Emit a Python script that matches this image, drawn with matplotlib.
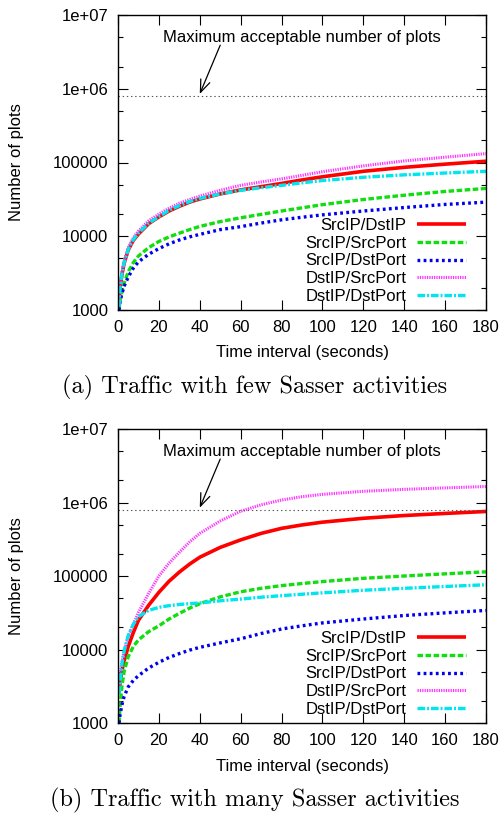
import matplotlib
matplotlib.use("Agg")
import matplotlib.pyplot as plt
from matplotlib.ticker import LogLocator, NullFormatter, FixedLocator

plt.rcParams['font.family'] = ['Liberation Sans', 'DejaVu Sans']
plt.rcParams['lines.scale_dashes'] = False

# time axis (seconds)
time_s = [0.5, 1, 2, 3, 5, 7.5, 10, 15, 20, 25, 30, 35, 40, 50, 60, 70, 80, 90, 100, 120, 140, 160, 180]

# (a) few Sasser activities
few_srcip_dstip = [1100, 2000, 3100, 4300, 6500, 8800, 10700, 14800, 18300, 22000, 25500, 29000,
                   32000, 37500, 42500, 47000, 52000, 58000, 64000, 76000, 86000, 95000, 104000]
few_srcip_srcport = [1000, 1350, 1800, 2300, 3300, 4400, 5400, 7000, 8500, 9800, 11000, 12300,
                     13600, 15800, 17800, 19800, 22000, 24300, 26800, 31500, 36000, 40500, 44500]
few_srcip_dstport = [1000, 1300, 1700, 2100, 2800, 3700, 4500, 5700, 6800, 7900, 8900, 9800,
                     10600, 12300, 13500, 15100, 16700, 18100, 19500, 22000, 24500, 27000, 29000]
few_dstip_srcport = [1150, 2100, 3300, 4600, 7000, 9600, 11800, 16200, 20000, 24000, 28000, 31500,
                     35000, 42000, 49000, 54500, 60000, 67000, 75000, 90000, 105000, 118000, 132000]
few_dstip_dstport = [1100, 2000, 3200, 4400, 6600, 9000, 11000, 15000, 18500, 22500, 26000, 29500,
                     32500, 37500, 42000, 45500, 49000, 53000, 57000, 63000, 68000, 72000, 76000]

# (b) many Sasser activities
many_srcip_dstip = [2500, 3500, 5300, 7000, 11000, 17000, 25000, 40000, 60000, 85000, 113000, 145000,
                    180000, 245000, 310000, 380000, 445000, 495000, 540000, 610000, 665000, 710000, 755000]
many_srcip_srcport = [1000, 1700, 3300, 5000, 8000, 11000, 13500, 17500, 21000, 26000, 31000, 36500,
                      42000, 52000, 61000, 68000, 74000, 79000, 84000, 93000, 100000, 107000, 114000]
many_srcip_dstport = [1000, 1300, 1800, 2300, 3100, 3800, 4400, 5600, 6700, 7800, 8800, 9800,
                      10700, 12300, 14000, 16500, 19000, 21000, 23000, 26000, 29000, 31500, 34000]
many_dstip_srcport = [3000, 4500, 7000, 9500, 15000, 22000, 32000, 58000, 100000, 150000, 210000, 290000,
                      380000, 560000, 760000, 930000, 1080000, 1200000, 1290000, 1420000, 1510000, 1580000, 1650000]
many_dstip_dstport = [2500, 3500, 6500, 9500, 15500, 22000, 28000, 34000, 37500, 39500, 41000, 42000,
                      43000, 46000, 48500, 51500, 54000, 56500, 59000, 64000, 68000, 72000, 76000]

labels = ["SrcIP/DstIP", "SrcIP/SrcPort", "SrcIP/DstPort", "DstIP/SrcPort", "DstIP/DstPort"]
threshold = 800000
ytick_vals = [1000, 10000, 100000, 1000000, 10000000]
ytick_labels = ["1000", "10000", "100000", "1e+06", "1e+07"]
xtick_vals = list(range(0, 181, 20))
captions = ["(a) Traffic with few Sasser activities", "(b) Traffic with many Sasser activities"]

styles = [
    dict(color="#ff0000", lw=2.6, linestyle="-"),
    dict(color="#11dd11", lw=2.4, linestyle=(0, (4.0, 1.8))),
    dict(color="#0000ee", lw=2.4, linestyle=(0, (2.0, 2.4))),
    dict(color="#ff33ff", lw=2.2, linestyle=(0, (0.9, 0.8))),
    dict(color="#00e5ee", lw=2.4, linestyle=(0, (5.5, 1.4, 1.4, 1.4))),
]

W, H = 504, 818
fig = plt.figure(figsize=(W / 100, H / 100), dpi=100)


def px(x, y):
    return x / W, 1 - y / H


def draw_panel(ax, series, top, bottom, caption_y, caption):
    for vals, lab, st in zip(series, labels, styles):
        ax.plot(time_s, vals, label=lab, solid_capstyle="butt", dash_capstyle="butt", **st)
    ax.axhline(threshold, color="#555555", lw=0.8, linestyle=(0, (1, 2)))
    ax.text(90, 5.0e6, "Maximum acceptable number of plots", ha="center", va="center", fontsize=12)
    ax.annotate("", xy=(40, 8.5e5), xytext=(50, 3.9e6),
                arrowprops=dict(arrowstyle="->,head_length=0.9,head_width=0.35", lw=0.9,
                                color="black", shrinkA=0, shrinkB=0))
    ax.set_yscale("log")
    ax.set_xlim(0, 180)
    ax.set_ylim(1000, 1e7)
    ax.yaxis.set_major_locator(FixedLocator(ytick_vals))
    ax.set_yticklabels(ytick_labels)
    ax.yaxis.set_minor_locator(LogLocator(base=10, subs=[2, 5]))
    ax.yaxis.set_minor_formatter(NullFormatter())
    ax.set_xticks(xtick_vals)
    ax.tick_params(which="both", direction="in", top=True, right=True, labelsize=12, width=0.8)
    ax.tick_params(which="major", length=7, pad=7)
    ax.tick_params(which="minor", length=3.5)
    for sp in ax.spines.values():
        sp.set_linewidth(1.0)
    ax.legend(loc="lower right", bbox_to_anchor=(0.946, 0.02), markerfirst=False, frameon=False,
              fontsize=12, handlelength=2.95, handletextpad=0.65, labelspacing=0.17,
              borderaxespad=0, borderpad=0)
    mid = (top + bottom) / 2
    fig.text(*px(17, mid), "Number of plots", rotation=90, ha="center", va="center", fontsize=12)
    fig.text(*px(302, bottom + 43), "Time interval (seconds)", ha="center", va="center", fontsize=12)
    fig.text(*px(255, caption_y), caption, ha="center", va="center", fontsize=17.5, family="cmr10")


ax_a = fig.add_axes([118 / W, 1 - 310 / H, 368 / W, 295 / H])
draw_panel(ax_a, [few_srcip_dstip, few_srcip_srcport, few_srcip_dstport, few_dstip_srcport, few_dstip_dstport],
           15, 310, 387, captions[0])

ax_b = fig.add_axes([118 / W, 1 - 723 / H, 368 / W, 294 / H])
draw_panel(ax_b, [many_srcip_dstip, many_srcip_srcport, many_srcip_dstport, many_dstip_srcport, many_dstip_dstport],
           429, 723, 800, captions[1])

fig.savefig("out.png", dpi=100)
